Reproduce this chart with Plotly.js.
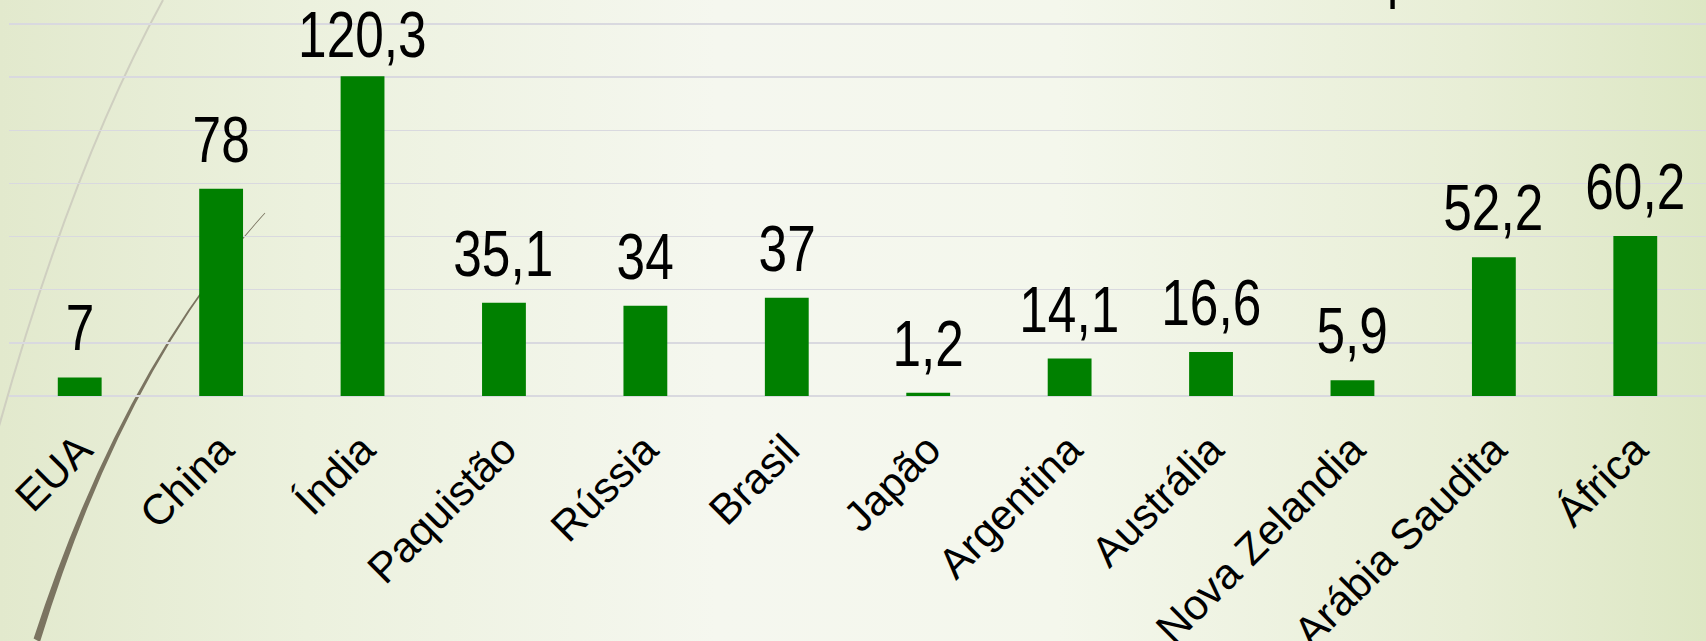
<!DOCTYPE html>
<html>
<head>
<meta charset="utf-8">
<script src="https://cdn.plot.ly/plotly-3.0.1.min.js"></script>
<style>
  html, body { margin: 0; padding: 0; }
  #wrap {
    position: relative; width: 1706px; height: 641px; overflow: hidden;
    background: linear-gradient(to right, #e2e9cd 0%, #ecf1de 18%, #f5f7ef 42%, #f4f7ec 62%, #e8eed6 86%, #dde7c4 100%);
  }
  #deco { position: absolute; left: 0; top: 0; }
  #chart { position: absolute; left: 0; top: 0; width: 1706px; height: 641px; }
</style>
</head>
<body>
<div id="wrap">
  <svg id="deco" width="1706" height="641" xmlns="http://www.w3.org/2000/svg">
    <path d="M163,0 Q70,170 -2,430" fill="none" stroke="#cfcfc0" stroke-width="2"/>
    <path d="M265.3,213.2 Q123,370.6 40,642 L33.6,638.6 Q121,369.4 264.7,212.8 Z" fill="#7b7461"/>
  </svg>
  <div id="chart"></div>
</div>
<script>
const categories = ["EUA", "China", "Índia", "Paquistão", "Rússia", "Brasil", "Japão", "Argentina", "Austrália", "Nova Zelandia", "Arábia Saudita", "África"];
const values = [7, 78, 120.3, 35.1, 34, 37, 1.2, 14.1, 16.6, 5.9, 52.2, 60.2];
const valueLabels = values.map(v => String(v).replace('.', ','));

const FONT = "'Liberation Sans', Arial, sans-serif";

// geometry of the plot area (pixels)
const M_TOP = 16, M_BOT = 245, FIG_H = 641;
const PLOT_H = FIG_H - M_TOP - M_BOT;
const Y_MAX = 143;
const LABEL_SIZE = 65;
const LABEL_SQUEEZE = 0.79;   // data labels are condensed in the reference

function yPix(v) { return M_TOP + (Y_MAX - v) * PLOT_H / Y_MAX; }

const trace = {
  type: 'bar',
  x: categories,
  y: values,
  marker: { color: '#008000', line: { width: 0 } },
  hoverinfo: 'none'
};

const annotations = categories.map((c, i) => {
  const baseShift = 11, gap = 25, digitH = 46.7, minTop = 12.7;
  const digitTop = yPix(values[i]) - gap - digitH;
  const over = Math.max(0, minTop - digitTop);
  return {
    x: c, y: values[i], xref: 'x', yref: 'y',
    text: valueLabels[i], showarrow: false,
    yanchor: 'bottom', xanchor: 'center', yshift: baseShift - over,
    font: { family: FONT, size: LABEL_SIZE, color: '#000000' }
  };
});
// descender of the (cut-off) slide title above the chart
annotations.push({
  xref: 'paper', yref: 'paper', x: 0.82, y: 1.0, yanchor: 'bottom', xanchor: 'center',
  yshift: 4.5, text: 'p', showarrow: false,
  font: { family: FONT, size: 50, color: '#000000' }
});

const layout = {
  width: 1706, height: FIG_H,
  margin: { l: 9, r: 0, t: M_TOP, b: M_BOT, pad: 0 },
  paper_bgcolor: 'rgba(0,0,0,0)',
  plot_bgcolor: 'rgba(0,0,0,0)',
  showlegend: false,
  bargap: 0.69,
  xaxis: {
    type: 'category',
    tickangle: -45,
    tickfont: { family: FONT, size: 42.5, color: '#000000' },
    ticklabelstandoff: 19,
    showgrid: false, showline: false, zeroline: false, ticks: ''
  },
  yaxis: {
    range: [0, Y_MAX], dtick: 20, tick0: 0,
    showgrid: true, gridcolor: '#d9d9df', gridwidth: 1.5,
    zeroline: true, zerolinecolor: '#d9d9df', zerolinewidth: 1.5,
    showticklabels: false, showline: false, ticks: ''
  },
  annotations: annotations
};

Plotly.newPlot('chart', [trace], layout, { staticPlot: true, displayModeBar: false }).then(gd => {
  const groups = gd.querySelectorAll('.annotation');
  groups.forEach(g => {
    const idx = +g.getAttribute('data-index');
    if (idx >= categories.length) return;
    const t = g.querySelector('text.annotation-text');
    if (!t) return;
    const bb = t.getBBox();
    const cx = bb.x + bb.width / 2;
    const prev = t.getAttribute('transform') || '';
    t.setAttribute('transform', prev + ' translate(' + cx + ',0) scale(' + LABEL_SQUEEZE + ',1) translate(' + (-cx) + ',0)');
  });
});
</script>
</body>
</html>
